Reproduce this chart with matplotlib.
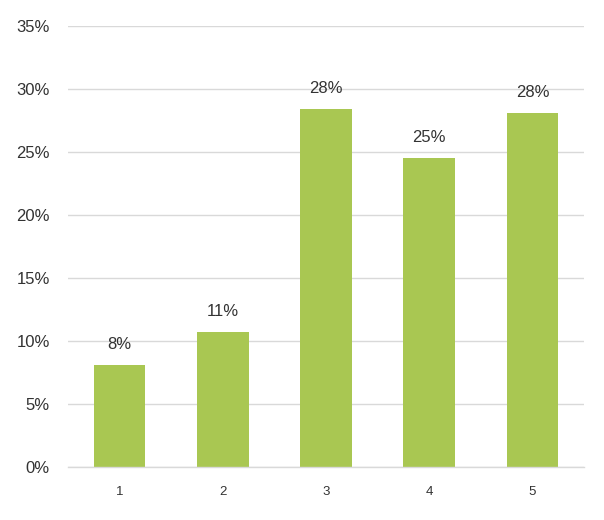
import matplotlib
matplotlib.use("Agg")
import matplotlib.pyplot as plt
from matplotlib.ticker import FuncFormatter

categories = ["1", "2", "3", "4", "5"]
shares = [8.1, 10.7, 28.4, 24.5, 28.1]
share_labels = ["8%", "11%", "28%", "25%", "28%"]
y_ticks = [0, 5, 10, 15, 20, 25, 30, 35]

plt.rcParams["font.family"] = ["Liberation Sans", "DejaVu Sans"]

fig = plt.figure(figsize=(6.04, 5.2), dpi=100)
ax = fig.add_axes([0.1126, 0.102, 0.8545, 0.848])

x = range(len(categories))
bars = ax.bar(x, shares, width=0.5, color="#a9c752", zorder=2)

for bar, lab in zip(bars, share_labels):
    ax.annotate(lab, (bar.get_x() + bar.get_width() / 2, bar.get_height()),
                xytext=(0, 15), textcoords="offset points",
                ha="center", va="center", fontsize=12, color="#333333")

ax.set_xlim(-0.5, len(categories) - 0.5)
ax.set_ylim(0, 35)
ax.set_yticks(y_ticks)
ax.yaxis.set_major_formatter(FuncFormatter(lambda v, _: f"{v:.0f}%"))
ax.set_xticks(list(x))
ax.set_xticklabels(categories)

ax.grid(axis="y", color="#d9d9d9", linewidth=1, zorder=0)
for side in ["top", "right", "left"]:
    ax.spines[side].set_visible(False)
ax.spines["bottom"].set_color("#d9d9d9")
ax.spines["bottom"].set_linewidth(1)

ax.tick_params(axis="y", length=0, pad=13, labelsize=12, labelcolor="#333333")
ax.tick_params(axis="x", length=0, pad=14, labelsize=9.5, labelcolor="#333333")

fig.savefig("out.png", dpi=100)
